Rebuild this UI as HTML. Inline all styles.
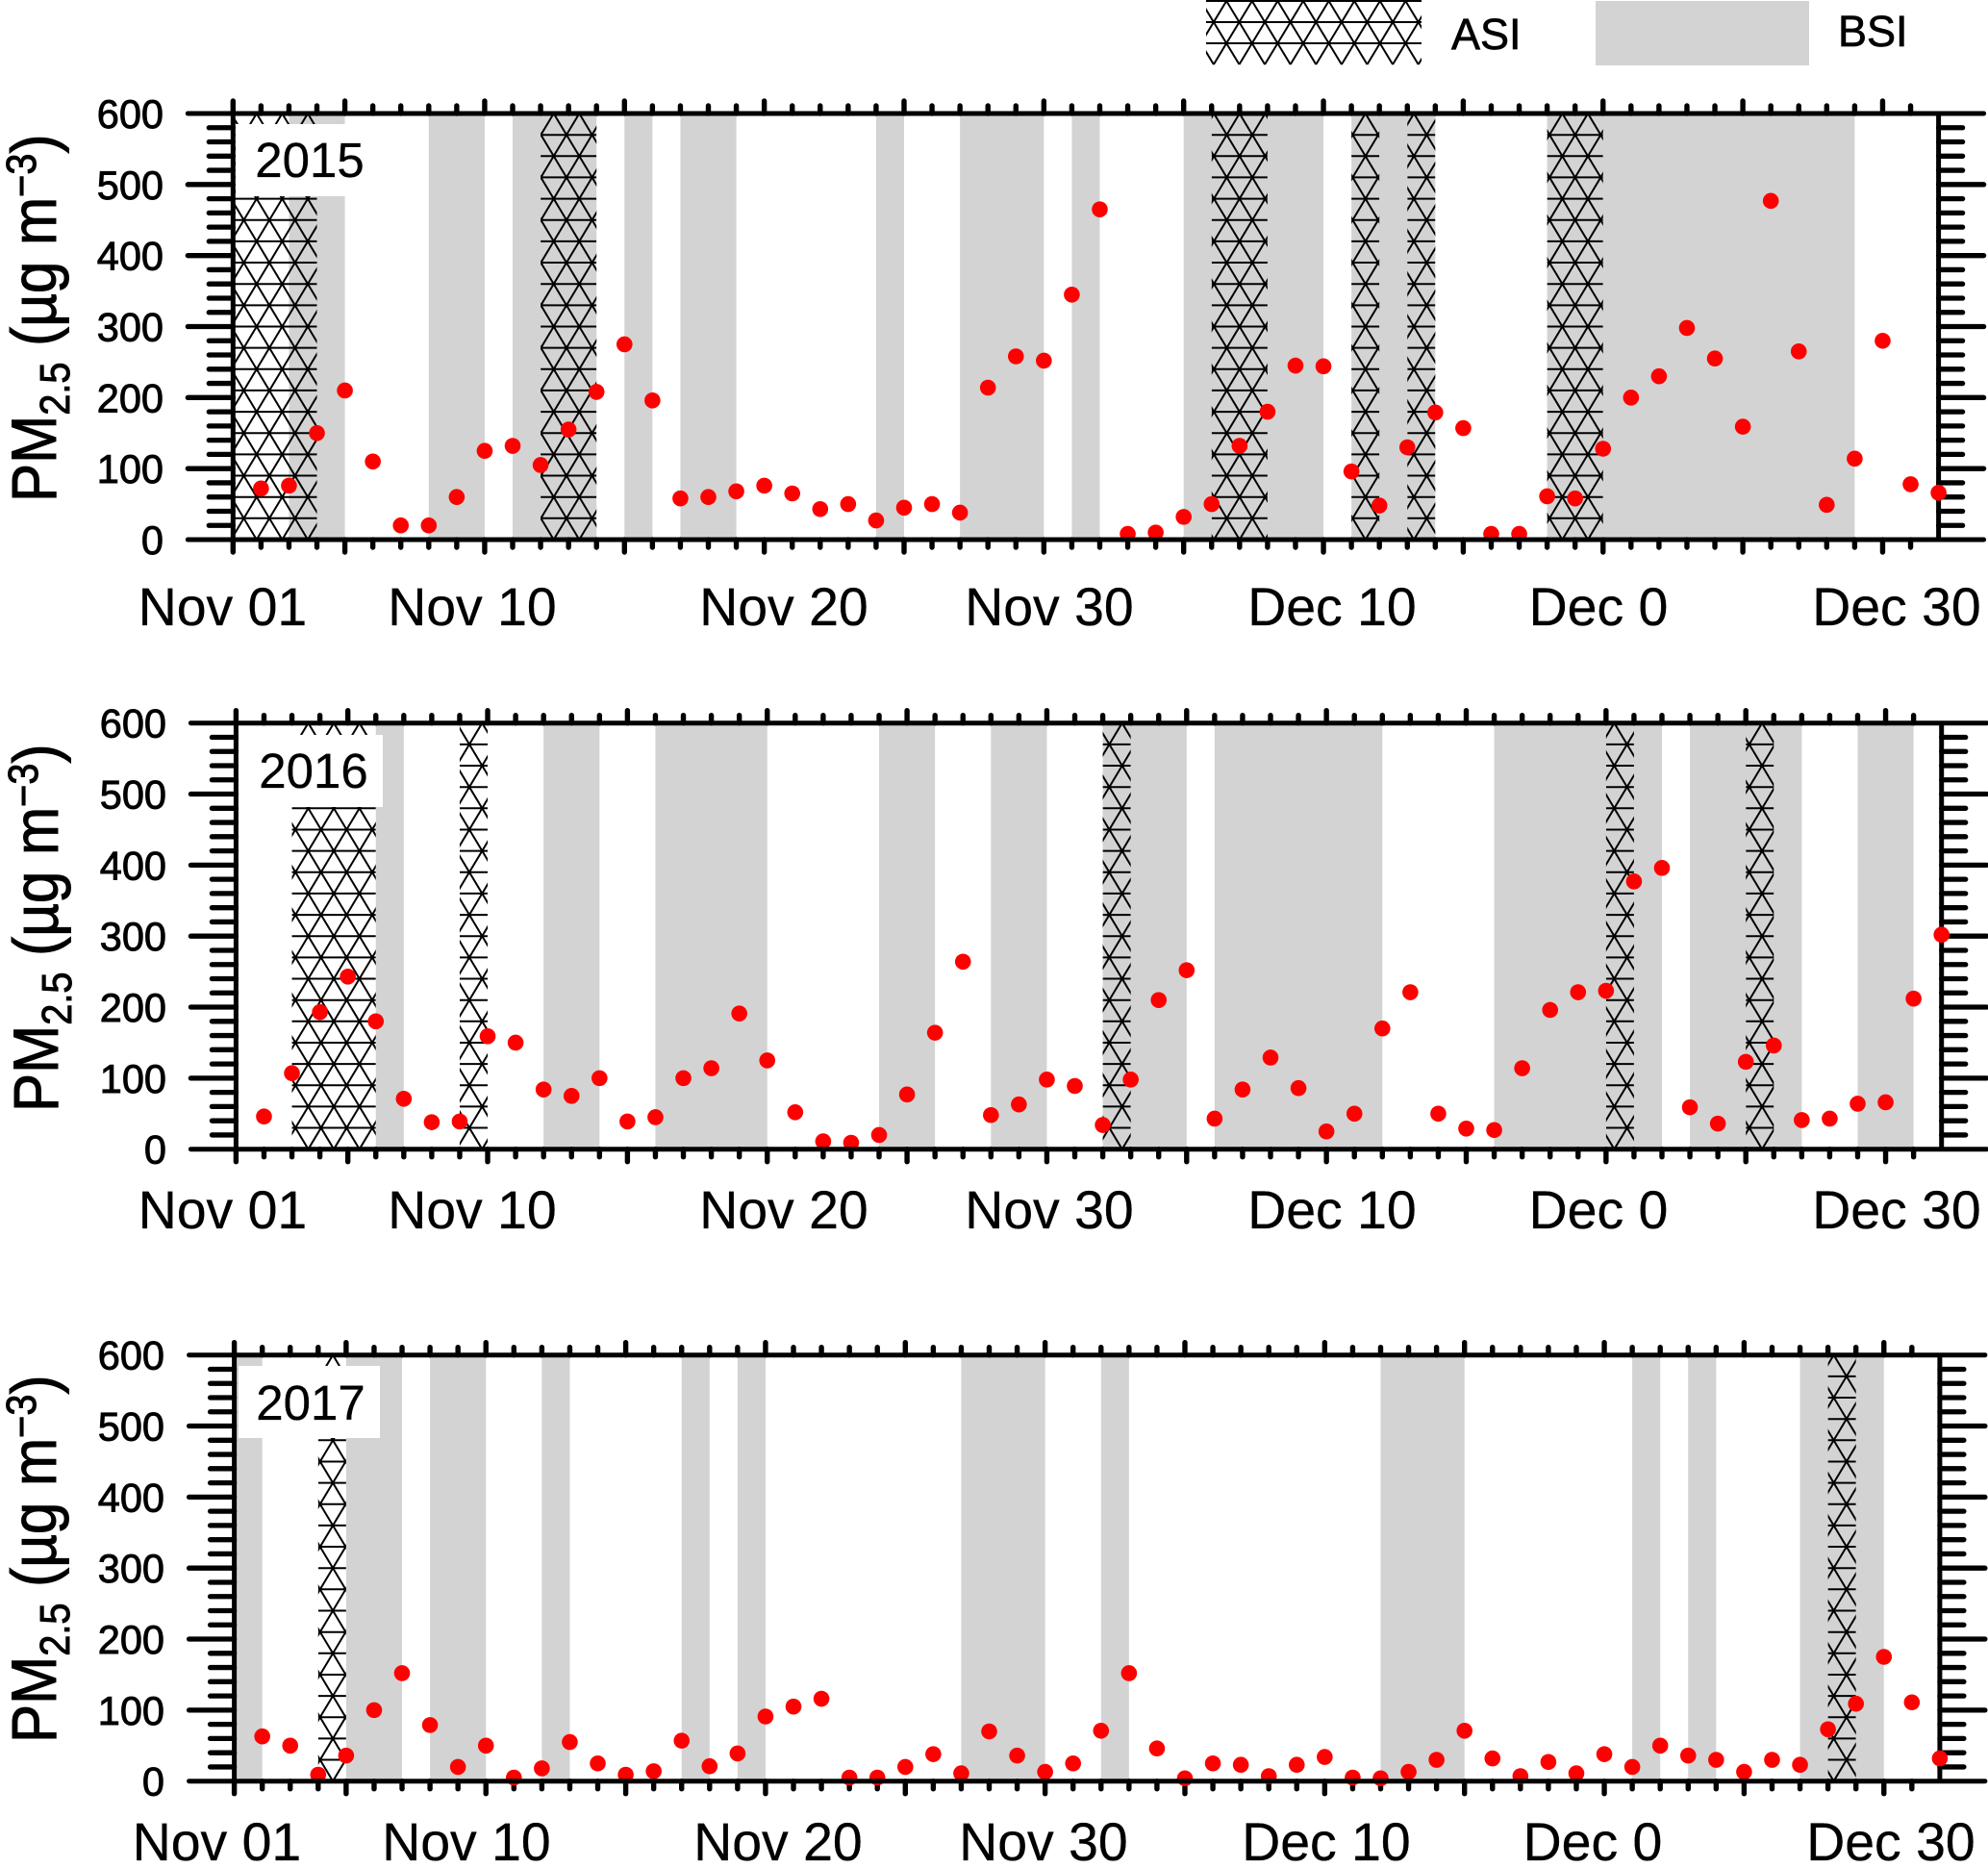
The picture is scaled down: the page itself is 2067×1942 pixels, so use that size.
<!DOCTYPE html>
<html lang="en">
<head>
<meta charset="utf-8">
<title>PM2.5 daily concentration 2015-2017</title>
<style>
html,body{margin:0;padding:0;background:#fff;}
svg{display:block;}
text{font-family:"Liberation Sans",sans-serif;fill:#000;white-space:pre;}
</style>
</head>
<body>
<svg id="chart" xmlns="http://www.w3.org/2000/svg" width="2067" height="1942" viewBox="0 0 2067 1942">
  <g id="legend">
    <g id="legend-asi-swatch"></g>
    <text x="1509" y="51" font-size="45" stroke="#000" stroke-width="0.7">ASI</text>
    <rect x="1659" y="1" width="222" height="67" fill="#d3d3d3"></rect>
    <text x="1911" y="48" font-size="45" stroke="#000" stroke-width="0.7">BSI</text>
  </g>
</svg>
<script>
// ---- chart data ----
const yearLabels = ['2015', '2016', '2017'];
const yTickValues = [0, 100, 200, 300, 400, 500, 600];
const xTickLabels = ['Nov 01', 'Nov 10', 'Nov 20', 'Nov 30', 'Dec 10', 'Dec 0', 'Dec 30'];

const pm2015 = [72,76,150,210,110,20,20,60,125,132,105,155,208,275,196,58,60,68,76,65,43,50,27,45,50,38,214,258,252,345,465,8,10,32,50,132,180,245,244,96,48,130,179,157,8,8,61,58,128,200,230,298,255,159,477,265,49,114,280,78,66];
const pm2016 = [46,107,193,243,180,71,38,39,159,150,84,75,100,39,45,100,114,191,125,52,11,9,20,77,164,264,48,63,98,89,34,98,210,252,43,84,129,86,25,50,170,221,50,29,27,114,196,221,223,377,396,59,36,123,146,41,43,64,66,212,302];
const pm2017 = [63,50,9,36,100,152,79,20,50,5,18,55,25,9,14,57,21,39,91,105,116,5,5,20,38,11,70,36,13,25,71,152,46,4,25,23,7,23,34,5,4,13,30,71,32,7,27,11,38,20,50,36,30,13,30,23,73,109,175,111,32];

// day-index spans [start, end]
const bsi2015 = [[2,4],[7,9],[10,13],[14,15],[16,18],[23,24],[26,29],[30,31],[34,39],[40,43],[47,58]];
const asi2015 = [[0,3],[11,13],[35,37],[40,41],[42,43],[47,49]];
const bsi2016 = [[5,6],[11,13],[15,19],[23,25],[27,29],[31,34],[35,41],[45,51],[52,56],[58,60]];
const asi2016 = [[2,5],[8,9],[31,32],[49,50],[54,55]];
const bsi2017 = [[0,1],[4,6],[7,9],[11,12],[16,17],[18,19],[26,29],[31,32],[41,44],[50,51],[52,53],[56,59]];
const asi2017 = [[3,4],[57,58]];

// ---- layout & style (not data) ----
const DAYS = 61, YMAX = 600, PERIOD = 26.6, ROWS = 20;
const panels = [
  {year: 0, values: pm2015, bsi: bsi2015, asi: asi2015, phase: [0.28,0.42,0,0,-0.29,0.5],
   left: 242.3, right: 2015.6, top: 118, bottom: 561, yLabelX: 170,
   titleX: 58, titleY: 522, xLabelY: 650, xShift: 0, box: [245,129,146,75], yearX: 322, yearY: 184},
  {year: 1, values: pm2016, bsi: bsi2016, asi: asi2016, phase: [0,0.33,0.21,-0.225,0.09],
   left: 245.4, right: 2018.7, top: 751.7, bottom: 1194.7, yLabelX: 173,
   titleX: 60, titleY: 1156, xLabelY: 1277, xShift: 0, box: [248,764,150,75], yearX: 326, yearY: 819},
  {year: 2, values: pm2017, bsi: bsi2017, asi: asi2017, phase: [0.03,-0.32],
   left: 243.6, right: 2016.9, top: 1408.7, bottom: 1851.7, yLabelX: 171,
   titleX: 58, titleY: 1812, xLabelY: 1934, xShift: -6, box: [248,1420,147,75], yearX: 323, yearY: 1476}
];
const xLabelCenters = [231.5, 491, 815, 1091, 1385, 1662, 1972];

const NS = 'http://www.w3.org/2000/svg';
const svg = document.getElementById('chart');

function mk(tag, attrs, parent) {
  const el = document.createElementNS(NS, tag);
  for (const k in attrs) el.setAttribute(k, attrs[k]);
  if (parent) parent.appendChild(el);
  return el;
}

let clipCount = 0;
function hatch(parent, x0, x1, y0, rowH, rows, cx, lastRow) {
  const id = 'hatch-clip-' + (clipCount++);
  const defs = mk('defs', {}, parent);
  const cp = mk('clipPath', {id: id}, defs);
  mk('rect', {x: x0, y: y0 - 1, width: x1 - x0, height: rowH * rows + 2}, cp);
  let d = '';
  for (let k = 0; k <= lastRow; k++) {
    const yy = (y0 + k * rowH).toFixed(1);
    d += 'M' + x0.toFixed(1) + ' ' + yy + 'H' + x1.toFixed(1);
  }
  const span = rows * PERIOD / 2;
  const y1 = y0 + rows * rowH;
  const nMin = Math.floor((x0 - span - cx) / PERIOD);
  const nMax = Math.ceil((x1 + span - cx) / PERIOD);
  for (let n = nMin; n <= nMax; n++) {
    const base = cx + n * PERIOD;
    d += 'M' + base.toFixed(1) + ' ' + y0.toFixed(1) + 'L' + (base + span).toFixed(1) + ' ' + y1.toFixed(1);
    d += 'M' + base.toFixed(1) + ' ' + y0.toFixed(1) + 'L' + (base - span).toFixed(1) + ' ' + y1.toFixed(1);
  }
  return mk('path', {d: d, fill: 'none', stroke: '#000', 'stroke-width': 2, 'clip-path': 'url(#' + id + ')'}, parent);
}

// legend hatch swatch
const legendGroup = document.getElementById('legend-asi-swatch');
hatch(legendGroup, 1254, 1478, 1, 22, 3, 1301.8, 2);

panels.forEach(function (p) {
  const x = function (d) { return p.left + (p.right - p.left) * d / DAYS; };
  const y = function (v) { return p.bottom - (p.bottom - p.top) * v / YMAX; };
  const yearName = yearLabels[p.year];

  const g = mk('g', {}, svg);
  
  

  // BSI bands
  p.bsi.forEach(function (b, i) {
    const r = mk('rect', {x: x(b[0]), y: p.top + 2, width: x(b[1]) - x(b[0]), height: p.bottom - p.top - 4, fill: '#d3d3d3'}, g);
    
    
  });

  // ASI hatched bands
  const rowH = (p.bottom - p.top) / ROWS;
  p.asi.forEach(function (b, i) {
    const cx = (x(b[0]) + x(b[1])) / 2 + (p.phase[i] || 0) * PERIOD;
    const h = hatch(g, x(b[0]), x(b[1]), p.top, rowH, ROWS, cx, ROWS);
    
    
  });

  // year label box
  const box = mk('rect', {x: p.box[0], y: p.box[1], width: p.box[2], height: p.box[3], fill: '#fff'}, g);
  
  
  const yt = mk('text', {x: p.yearX, y: p.yearY, 'font-size': 51, 'text-anchor': 'middle', stroke: '#000', 'stroke-width': 0.3}, g);
  yt.textContent = yearName;
  
  

  // ticks
  const ticks = mk('g', {stroke: '#000', 'stroke-linecap': 'round', fill: 'none'}, g);
  
  
  for (let d = 0; d <= 60; d++) {
    const major = d === 0 || (d + 1) % 5 === 0;
    const len = major ? 13 : 8;
    const xx = x(d);
    mk('line', {x1: xx, x2: xx, y1: p.top, y2: p.top - len, 'stroke-width': 5.4}, ticks);
    mk('line', {x1: xx, x2: xx, y1: p.bottom, y2: p.bottom + len, 'stroke-width': 5.4}, ticks);
  }
  for (let v = 0; v <= YMAX; v += 20) {
    const major = v % 100 === 0;
    if (v === 0 || v === YMAX) continue;
    const len = major ? 47 : 25;
    const yy = y(v);
    mk('line', {x1: p.left, x2: p.left - len, y1: yy, y2: yy, 'stroke-width': 5.3}, ticks);
    mk('line', {x1: p.right, x2: p.right + len, y1: yy, y2: yy, 'stroke-width': 5.3}, ticks);
  }

  // vertical spines
  const spines = mk('g', {stroke: '#000', 'stroke-width': 5, fill: 'none'}, g);
  
  
  mk('line', {x1: p.left, x2: p.left, y1: p.top, y2: p.bottom}, spines);
  mk('line', {x1: p.right, x2: p.right, y1: p.top, y2: p.bottom}, spines);

  // data points
  const pts = mk('g', {fill: '#ff0000'}, g);
  
  
  p.values.forEach(function (v, i) {
    const c = mk('circle', {cx: x(i + 1), cy: y(v), r: 8.3}, pts);
    
    
  });

  // horizontal spines on top of points
  const hs = mk('g', {stroke: '#000', 'stroke-width': 5, 'stroke-linecap': 'round', fill: 'none'}, g);
  
  
  mk('line', {x1: p.left - 47, x2: p.right + 47, y1: p.top, y2: p.top}, hs);
  mk('line', {x1: p.left - 47, x2: p.right + 47, y1: p.bottom, y2: p.bottom}, hs);

  // y tick labels
  yTickValues.forEach(function (v) {
    const t = mk('text', {x: p.yLabelX, y: y(v) + 15, 'font-size': 41.5, 'text-anchor': 'end', stroke: '#000', 'stroke-width': 0.9}, g);
    t.textContent = String(v);
    
    
  });

  // x tick labels
  xTickLabels.forEach(function (lab, i) {
    const t = mk('text', {x: xLabelCenters[i] + p.xShift, y: p.xLabelY, 'font-size': 55.4, 'text-anchor': 'middle', stroke: '#000', 'stroke-width': 0.3}, g);
    t.textContent = lab;
    
    
  });

  // y axis title
  const title = mk('text', {transform: 'translate(' + p.titleX + ' ' + p.titleY + ') rotate(-90) scale(0.97 1.06)', 'font-size': 62, stroke: '#000', 'stroke-width': 0.9}, g);
  
  
  const parts = [
    ['PM', 62, 0],
    ['2.5', 41, 13],
    [' (\u00b5g m', 62, -13],
    ['\u22123', 41, -20],
    [')', 62, 20]
  ];
  parts.forEach(function (part) {
    const s = mk('tspan', {'font-size': part[1], dy: part[2]}, title);
    s.textContent = part[0];
  });
});
</script>
</body>
</html>
